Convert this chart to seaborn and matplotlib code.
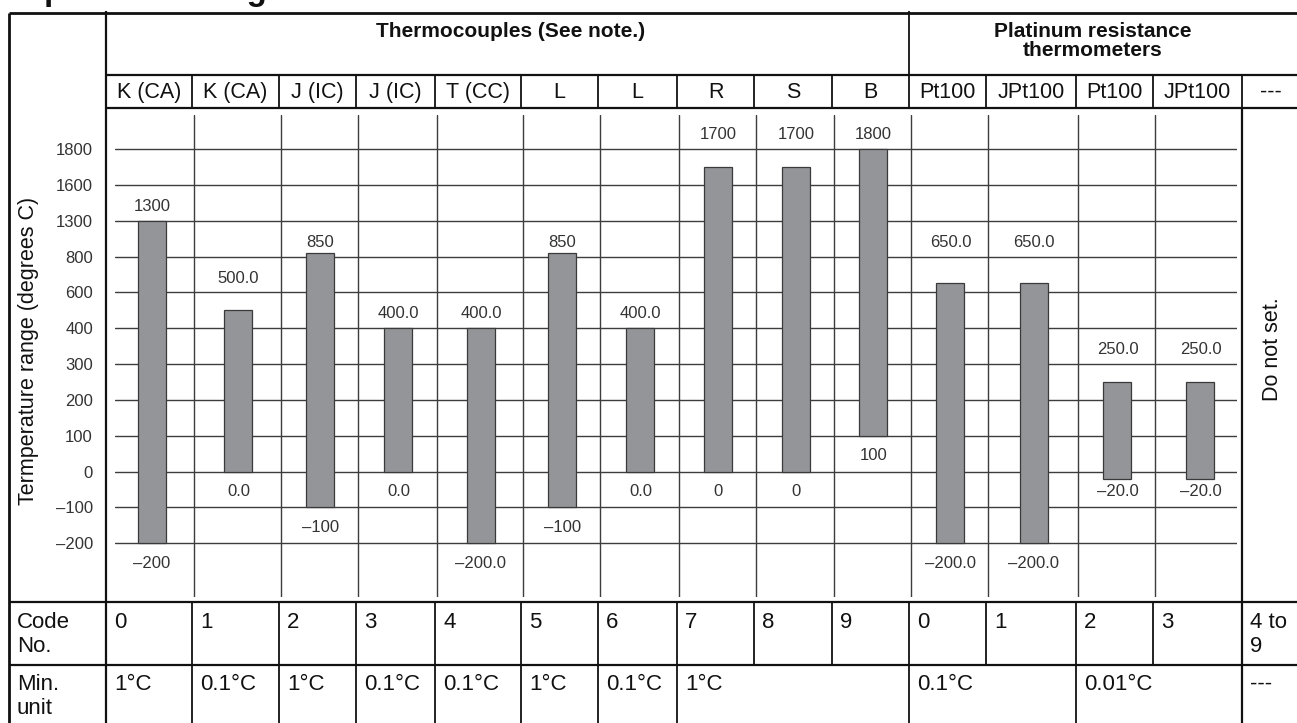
import numpy as np
import pandas as pd
import matplotlib
matplotlib.use("Agg")
import matplotlib.pyplot as plt
import seaborn as sns

# ------------------------------------------------------------------ data
SENSOR_TYPES = ["K (CA)", "K (CA)", "J (IC)", "J (IC)", "T (CC)", "L", "L",
                "R", "S", "B", "Pt100", "JPt100", "Pt100", "JPt100"]
RANGE_LOW = [-200, 0.0, -100, 0.0, -200.0, -100, 0.0,
             0, 0, 100, -200.0, -200.0, -20.0, -20.0]
RANGE_HIGH = [1300, 500.0, 850, 400.0, 400.0, 850, 400.0,
              1700, 1700, 1800, 650.0, 650.0, 250.0, 250.0]
LABEL_DECIMALS = [0, 1, 0, 1, 1, 0, 1, 0, 0, 0, 1, 1, 1, 1]
CODE_NUMBERS = ["0", "1", "2", "3", "4", "5", "6", "7", "8", "9",
                "0", "1", "2", "3", "4 to\n9"]
MIN_UNITS = ["1°C", "0.1°C", "1°C", "0.1°C", "0.1°C", "1°C", "0.1°C",
             "1°C", "0.1°C", "0.01°C", "---"]
MIN_UNIT_SPANS = [1, 1, 1, 1, 1, 1, 1, 3, 2, 2, 1]
GROUPS = ["Thermocouples (See note.)", "Platinum resistance\nthermometers"]
GROUP_SPANS = [10, 5]
Y_TICKS = [-200, -100, 0, 100, 200, 300, 400, 600, 800, 1300, 1600, 1800]
TITLE = "Temperature Range"

# ---------------------------------------------------------------- layout (px)
W, H = 1297, 723
COL_EDGES = np.array([106, 192, 279, 356, 435, 521, 598, 677, 754, 832,
                      909, 986, 1076, 1153, 1242, 1300], float)
LEFT, TOP = 9, 13
ROW_HDR2, ROW_PLOT, ROW_CODE, ROW_MIN = 75, 108, 602, 665
GRID_L, GRID_R, GRID_T, GRID_B = 115, 1237, 115, 597
GRID_SHIFT = 2.5
BAR_SHIFT = 3
BAR_WIDTH_PX = 28
GROUP_TEXT_X = [511, 1093]
TEXT_PAD = 8

INK = "#111111"
GRID_INK = "#3d3d3d"
LABEL_INK = "#333333"
BAR_FILL = "#939598"


def fmt(v, d=0):
    return f"{v:.{d}f}".replace("-", "\u2013")


sns.set_theme(style="white")
plt.rcParams["font.family"] = ["Liberation Sans", "DejaVu Sans"]

fig = plt.figure(figsize=(W / 100, H / 100), dpi=100)
fig.patch.set_facecolor("white")

# ------------------------------------------------ chart area with banded scale
ax = fig.add_axes([GRID_L / W, 1 - GRID_B / H,
                   (GRID_R - GRID_L) / W, (GRID_B - GRID_T) / H])

tick_vals = np.array(Y_TICKS, float)
tick_idx = np.arange(len(tick_vals), dtype=float)
lo_step = tick_vals[1] - tick_vals[0]
hi_step = tick_vals[-1] - tick_vals[-2]
ext_vals = np.concatenate([[tick_vals[0] - 100 * lo_step], tick_vals,
                           [tick_vals[-1] + 100 * hi_step]])
ext_idx = np.concatenate([[-100.0], tick_idx, [tick_idx[-1] + 100.0]])


def to_band(v):
    return np.interp(np.asarray(v, float), ext_vals, ext_idx)


def from_band(i):
    return np.interp(np.asarray(i, float), ext_idx, ext_vals)


ax.set_yscale("function", functions=(to_band, from_band))

centers = (COL_EDGES[:-2] + COL_EDGES[1:-1]) / 2 + BAR_SHIFT
df = pd.DataFrame({"sensor_x": centers, "low": RANGE_LOW, "high": RANGE_HIGH,
                   "sensor": SENSOR_TYPES})
df["span"] = df["high"] - df["low"]
native = np.diff(np.sort(centers)).min()

sns.barplot(data=df, x="sensor_x", y="span", bottom=df["low"].to_numpy(),
            native_scale=True, width=BAR_WIDTH_PX / native, errorbar=None,
            color=BAR_FILL, saturation=1, edgecolor="#3a3a3a", linewidth=0.9,
            ax=ax, zorder=3)

band_px = (GRID_B - GRID_T) / 13.45
ax.set_xlim(GRID_L, GRID_R)
ax.set_ylim(float(from_band(-(GRID_B - 543.3) / band_px)),
            float(from_band(11 + (149 - GRID_T) / band_px)))
ax.set_xlabel("")
ax.set_ylabel("")
ax.set_xticks(COL_EDGES[1:14] + GRID_SHIFT)
ax.set_yticks(Y_TICKS)
ax.set_yticklabels([fmt(v) for v in Y_TICKS])
ax.tick_params(axis="x", labelbottom=False, length=0)
ax.tick_params(axis="y", length=0, pad=(GRID_L - 93) * 0.72,
               labelsize=12, labelcolor=LABEL_INK)
ax.grid(True, color=GRID_INK, linewidth=1.0)
ax.set_axisbelow(True)
for s in ax.spines.values():
    s.set_visible(False)
ax.patch.set_alpha(0)

# value labels sit in the grid band just beyond each end of the bar
for xc, lo, hi, d in zip(centers, RANGE_LOW, RANGE_HIGH, LABEL_DECIMALS):
    top_band = np.floor(to_band(hi) + 0.8) + 0.4
    bot_band = np.ceil(to_band(lo) - 0.2) - 0.55
    ax.text(xc, float(from_band(top_band)), fmt(hi, d), ha="center",
            va="center", fontsize=12, color=LABEL_INK, zorder=4)
    ax.text(xc, float(from_band(bot_band)), fmt(lo, d), ha="center",
            va="center", fontsize=12, color=LABEL_INK, zorder=4)

# ------------------------------------------------------------ table overlay
ov = fig.add_axes([0, 0, 1, 1], zorder=5)
ov.set_xlim(0, W)
ov.set_ylim(H, 0)
ov.axis("off")

THICK, MID, THIN = 2.0, 1.6, 1.3
right = W + 5

ov.hlines(TOP, LEFT, right, color=INK, lw=THICK)
ov.vlines(LEFT, TOP, H + 5, color=INK, lw=THICK)
ov.vlines(COL_EDGES[0], TOP - 2, H + 5, color=INK, lw=MID)
ov.hlines([ROW_HDR2, ROW_PLOT], COL_EDGES[0], right, color=INK, lw=MID)
ov.hlines([ROW_CODE, ROW_MIN], LEFT, right, color=INK, lw=MID)

# header group row
g_edges = np.concatenate([[0], np.cumsum(GROUP_SPANS)])
for k in g_edges[1:-1]:
    ov.vlines(COL_EDGES[k], TOP - 2, ROW_HDR2, color=INK, lw=THIN)
for name, gx in zip(GROUPS, GROUP_TEXT_X):
    ov.text(gx, 22, name, ha="center", va="top", fontsize=15,
            fontweight="bold", color=INK, linespacing=1.0)

# sensor row
ov.vlines(COL_EDGES[1:-1], ROW_HDR2, ROW_PLOT, color=INK, lw=THIN)
labels_row = SENSOR_TYPES + ["---"]
for i, lab in enumerate(labels_row):
    ov.text((COL_EDGES[i] + COL_EDGES[i + 1]) / 2, (ROW_HDR2 + ROW_PLOT) / 2 + 1,
            lab, ha="center", va="center", fontsize=15.5, color=INK)

# plot area right border before the unused column
ov.vlines(COL_EDGES[-2], ROW_PLOT, H + 5, color=INK, lw=MID)
ov.text((COL_EDGES[-2] + COL_EDGES[-1]) / 2 + 1.5, (ROW_PLOT + ROW_CODE) / 2 - 6,
        "Do not set.", rotation=90, ha="center", va="center",
        fontsize=15.5, color=INK)

# axis title in the left column
ov.text(29, (GRID_T + GRID_B) / 2 - 5, "Termperature range (degrees C)",
        rotation=90, ha="center", va="center", fontsize=15.5, color=INK)

# code number row
ov.vlines(COL_EDGES[1:-1], ROW_CODE, ROW_MIN, color=INK, lw=THIN)
ov.text(LEFT + TEXT_PAD, ROW_CODE + 10, "Code\nNo.", ha="left", va="top",
        fontsize=16, color=INK, linespacing=1.2)
for i, code in enumerate(CODE_NUMBERS):
    ov.text(COL_EDGES[i] + TEXT_PAD, ROW_CODE + 10, code, ha="left", va="top",
            fontsize=16, color=INK, linespacing=1.2)

# minimum unit row
m_edges = np.concatenate([[0], np.cumsum(MIN_UNIT_SPANS)])
ov.vlines(COL_EDGES[m_edges[1:-1]], ROW_MIN, H + 5, color=INK, lw=THIN)
ov.text(LEFT + TEXT_PAD, ROW_MIN + 9, "Min.\nunit", ha="left", va="top",
        fontsize=16, color=INK, linespacing=1.2)
for k, unit in enumerate(MIN_UNITS):
    ov.text(COL_EDGES[m_edges[k]] + TEXT_PAD, ROW_MIN + 9, unit, ha="left",
            va="top", fontsize=16, color=INK)

# section heading, whose lower edge reaches into the top of the page
ov.text(-21, 0.3, TITLE, ha="left", va="baseline", fontsize=23.7,
        fontweight="bold", color=INK)

fig.savefig("out.png", dpi=100, facecolor="white")
